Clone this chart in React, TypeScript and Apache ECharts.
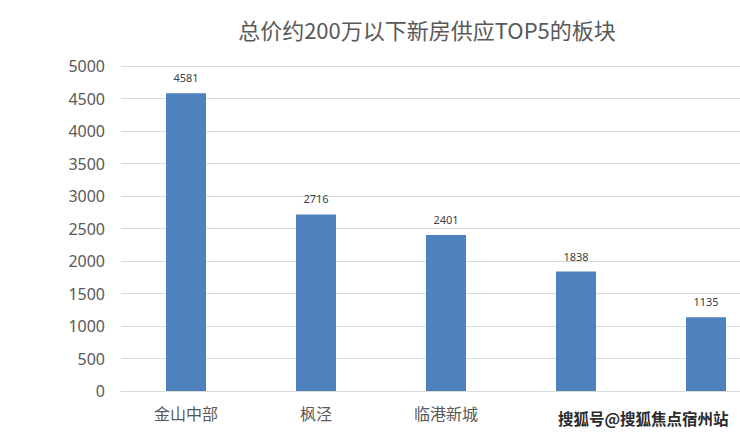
import React, { useEffect, useRef } from "react";
import * as echarts from "echarts";

const titleText = "总价约200万以下新房供应TOP5的板块";
const categories = ["金山中部", "枫泾", "临港新城", "", ""];
const supplyValues = [4581, 2716, 2401, 1838, 1135];
const watermarkText = "搜狐号@搜狐焦点宿州站";

export default function App() {
  const ref = useRef<HTMLDivElement>(null);
  useEffect(() => {
    document.body.style.margin = "0";
    document.body.style.overflow = "hidden";
    if (!ref.current) return;
    const chart = echarts.init(ref.current, undefined, { renderer: "svg" });
    chart.setOption({
      animation: false,
      backgroundColor: "#ffffff",
      title: {
        text: titleText,
        left: 422,
        textAlign: "center",
        top: 13,
        textStyle: {
          fontFamily: "Noto Sans CJK SC",
          fontSize: 22,
          fontWeight: "normal",
          color: "#595959",
        },
      },
      grid: { left: 121, right: 0, top: 66, bottom: 44 },
      xAxis: {
        type: "category",
        data: categories,
        axisLine: { show: true, lineStyle: { color: "#d9d9d9" } },
        axisTick: { show: false },
        axisLabel: {
          fontFamily: "Noto Sans CJK SC",
          fontSize: 16,
          color: "#595959",
          margin: 14,
        },
      },
      yAxis: {
        type: "value",
        min: 0,
        max: 5000,
        interval: 500,
        axisLine: { show: false },
        axisTick: { show: false },
        splitLine: { lineStyle: { color: "#d9d9d9", width: 1 } },
        axisLabel: {
          fontFamily: "Noto Sans",
          fontSize: 16,
          color: "#595959",
          margin: 16,
          formatter: (v: number) => String(v),
        },
      },
      series: [
        {
          type: "bar",
          data: supplyValues,
          barWidth: 40,
          itemStyle: { color: "#4f81bd" },
          label: {
            show: true,
            position: "top",
            distance: 10,
            fontFamily: "Noto Sans",
            fontSize: 11,
            color: "#404040",
          },
        },
      ],
      graphic: [
        {
          type: "text",
          left: 557,
          top: 409,
          style: {
            text: watermarkText,
            fontFamily: "Noto Sans CJK SC",
            fontSize: 15.5,
            fontWeight: "bold",
            fill: "#2b2b2b",
            stroke: "#ffffff",
            lineWidth: 2,
          },
        },
      ],
    });
    return () => chart.dispose();
  }, []);
  return <div ref={ref} style={{ width: 771, height: 435 }} />;
}
